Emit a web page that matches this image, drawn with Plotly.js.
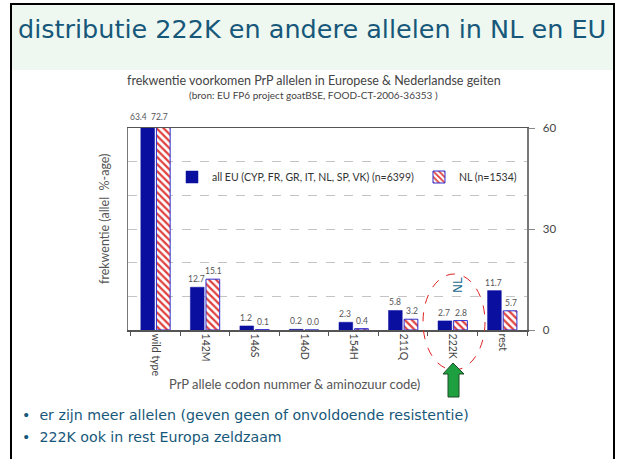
<!DOCTYPE html>
<html>
<head>
<meta charset="utf-8">
<script src="https://cdn.plot.ly/plotly-3.0.1.min.js"></script>
<style>
  html, body { margin: 0; padding: 0; background: #ffffff; }
  #chart { width: 621px; height: 459px; }
</style>
</head>
<body>
<div id="chart"></div>
<script>
// ---- data ----
const categories = ['wild type', '142M', '146S', '146D', '154H', '211Q', '222K', 'rest'];
const euValues = [63.4, 12.7, 1.2, 0.2, 2.3, 5.8, 2.7, 11.7];
const nlValues = [72.7, 15.1, 0.1, 0.0, 0.4, 3.2, 2.8, 5.7];
const euName = 'all EU (CYP, FR, GR, IT, NL, SP, VK) (n=6399)';
const nlName = 'NL (n=1534)';
const rightTicks = [0, 30, 60];
const slideTitle = 'distributie 222K en andere allelen in NL en EU';
const chartTitle = 'frekwentie voorkomen PrP allelen in Europese &amp; Nederlandse geiten';
const chartSubtitle = '(bron: EU FP6 project goatBSE, FOOD-CT-2006-36353 )';
const yTitle = 'frekwentie (allel  %-age)';
const xTitle = 'PrP allele codon nummer &amp; aminozuur code)';
const bullets = ['er zijn meer allelen (geven geen of onvoldoende resistentie)', '222K ook in rest Europa zeldzaam'];

// ---- layout geometry (pixels) ----
const W = 621, H = 459;
const L = 128, R = 527, T = 128, B = 330;
const YMAX = 60;
const px = x => (x - L) / (R - L);
const py = y => (B - y) / (B - T);

const slideColor = '#17587a';
const labelColor = '#555555';

const traces = [
  {
    type: 'bar', name: euName, x: categories, y: euValues,
    marker: { color: '#0b0fa0', line: { color: '#0b0fa0', width: 0.5 } },
    hoverinfo: 'skip'
  },
  {
    type: 'bar', name: nlName, x: categories, y: nlValues,
    marker: {
      color: '#ffffff',
      line: { color: '#3030d0', width: 1 },
      pattern: { shape: '\\', fgcolor: '#e0403c', bgcolor: '#ffffff', size: 5, solidity: 0.45 }
    },
    hoverinfo: 'skip'
  }
];

const annotations = [];
categories.forEach((c, i) => {
  [[euValues[i], -8.5, -17], [nlValues[i], 8.5, 4]].forEach(([v, s, sClip]) => {
    const clipped = v > YMAX;
    annotations.push({
      x: c, y: Math.min(v, YMAX), xref: 'x', yref: 'y',
      xshift: clipped ? sClip : s, yshift: clipped ? 4 : 1, yanchor: 'bottom', showarrow: false,
      text: v.toFixed(1), font: { size: 8.5, color: labelColor }
    });
  });
});

annotations.push(
  { xref: 'paper', yref: 'paper', x: px(16), y: py(29), xanchor: 'left', yanchor: 'middle', showarrow: false,
    text: slideTitle, font: { family: 'DejaVu Sans', size: 25.5, color: slideColor } },
  { xref: 'paper', yref: 'paper', x: px(314), y: py(80), xanchor: 'center', yanchor: 'middle', showarrow: false,
    text: chartTitle, font: { size: 12.5, color: '#444444' } },
  { xref: 'paper', yref: 'paper', x: px(313), y: py(95), xanchor: 'center', yanchor: 'middle', showarrow: false,
    text: chartSubtitle, font: { size: 10, color: '#444444' } },
  { xref: 'paper', yref: 'paper', x: px(104), y: py(219), xanchor: 'center', yanchor: 'middle', showarrow: false,
    textangle: -90, text: yTitle, font: { size: 12.5, color: labelColor } },
  { xref: 'paper', yref: 'paper', x: px(294), y: py(384), xanchor: 'center', yanchor: 'middle', showarrow: false,
    text: xTitle, font: { size: 13, color: labelColor } },
  { xref: 'paper', yref: 'paper', x: px(458), y: py(285), xanchor: 'center', yanchor: 'middle', showarrow: false,
    textangle: -90, text: 'NL', font: { family: 'DejaVu Sans', size: 12, color: '#1a6a8c' } }
);
bullets.forEach((b, i) => {
  annotations.push({ xref: 'paper', yref: 'paper', x: px(20), y: py(415 + i * 22), xanchor: 'left', yanchor: 'middle',
    showarrow: false, text: '•&nbsp;&nbsp;' + b, font: { family: 'DejaVu Sans', size: 14.2, color: slideColor } });
});

// green arrow path (paper coords)
const arrowPts = [[453, 363], [464, 374], [459, 374], [459, 397], [448, 397], [448, 374], [443, 374]];
const arrowPath = 'M' + arrowPts.map(p => px(p[0]) + ',' + py(p[1])).join(' L') + ' Z';

const shapes = [
  { type: 'rect', xref: 'paper', yref: 'paper', x0: px(12), x1: px(613), y0: py(70), y1: py(5),
    fillcolor: '#eef8f1', line: { width: 0 }, layer: 'below' },
  { type: 'line', xref: 'paper', yref: 'paper', x0: px(11), x1: px(11), y0: py(4), y1: py(459), line: { color: '#000', width: 2 } },
  { type: 'line', xref: 'paper', yref: 'paper', x0: px(10), x1: px(615), y0: py(4), y1: py(4), line: { color: '#000', width: 2 } },
  { type: 'line', xref: 'paper', yref: 'paper', x0: px(614), x1: px(614), y0: py(4), y1: py(459), line: { color: '#000', width: 2 } },
  { type: 'circle', xref: 'paper', yref: 'paper', x0: px(423), x1: px(485), y0: py(370), y1: py(274),
    line: { color: '#dd2222', width: 1, dash: 'dash' } },
  { type: 'path', xref: 'paper', yref: 'paper', path: arrowPath, fillcolor: '#1ea040', line: { color: '#1d4a25', width: 1 } }
];

const layout = {
  width: W, height: H,
  margin: { l: L, r: W - R, t: T, b: H - B, pad: 0 },
  paper_bgcolor: '#ffffff', plot_bgcolor: '#ffffff',
  font: { family: 'Lato, sans-serif', color: '#444444' },
  barmode: 'group', bargap: 0.37, bargroupgap: 0.12,
  showlegend: true,
  legend: {
    orientation: 'h', x: px(172), y: py(177), xanchor: 'left', yanchor: 'middle',
    bgcolor: 'rgba(0,0,0,0)', font: { size: 10.5, color: '#333333' }, itemwidth: 30
  },
  xaxis: {
    type: 'category', tickangle: 90, tickson: 'boundaries', ticks: 'outside', ticklen: 4,
    tickcolor: '#555', showline: true, linecolor: '#555555', linewidth: 1.5, mirror: true,
    tickfont: { size: 10.5, color: '#444444' }, fixedrange: true
  },
  yaxis: {
    side: 'right', range: [0, YMAX], tickvals: rightTicks, ticks: 'outside', ticklen: 6, tickcolor: '#888',
    ticklabelstandoff: 6,
    tickfont: { size: 11.5, color: '#444444' },
    showgrid: true, gridcolor: '#c4c4c4', griddash: 'dash', zeroline: false,
    minor: { dtick: 10, showgrid: true, gridcolor: '#c4c4c4', griddash: 'dash', ticks: '' },
    showline: true, linecolor: '#777777', linewidth: 1.5, mirror: true, fixedrange: true
  },
  annotations: annotations,
  shapes: shapes
};

Plotly.newPlot('chart', traces, layout, { staticPlot: true, displayModeBar: false });
</script>
</body>
</html>
